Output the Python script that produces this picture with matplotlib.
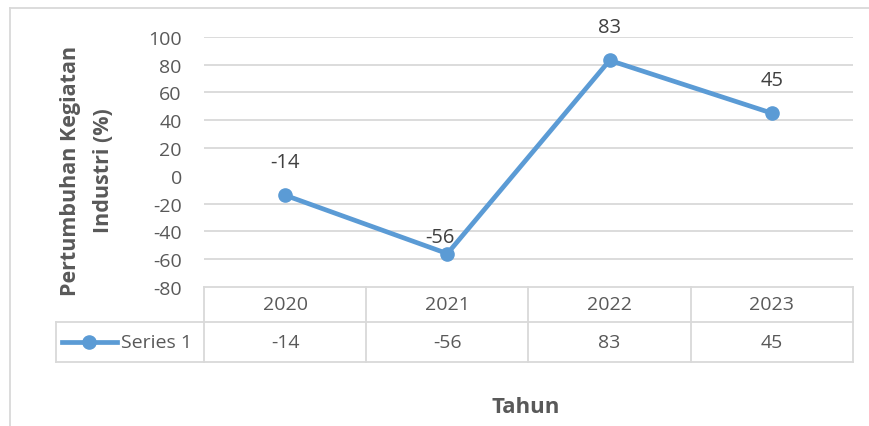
import matplotlib.pyplot as plt
import matplotlib.transforms as mtransforms
from matplotlib.lines import Line2D

plt.rcParams['font.family'] = ['Open Sans', 'DejaVu Sans']

# data
years = ['2020', '2021', '2022', '2023']
growth = [-14, -56, 83, 45]
series_name = 'Series 1'
yticks = [-80, -60, -40, -20, 0, 20, 40, 60, 80, 100]

# label offsets (points) above each marker
label_offsets = [(0, 24), (-5, 12), (0, 24), (0, 24)]

W, H = 870, 427
blue = '#5B9BD5'
grid = '#D9D9D9'
fs = 14

fig = plt.figure(figsize=(W / 100, H / 100), dpi=100)

def fx(px):
    return px / W

def fy(py):
    return 1 - py / H

ax = fig.add_axes([fx(204), fy(288), fx(853) - fx(204), fy(37.7) - fy(288)])
x = list(range(len(years)))

ax.plot(x, growth, color=blue, lw=3.4, marker='o', ms=9.5, zorder=3, clip_on=False)
for xi, v, off in zip(x, growth, label_offsets):
    ax.annotate(str(v), (xi, v), xytext=off, textcoords='offset points',
                ha='center', va='center', fontsize=14.5, color='#404040')

ax.set_xlim(-0.5, len(years) - 0.5)
ax.set_ylim(-80, 100)
ax.set_yticks(yticks)
ax.set_yticklabels([str(t) for t in yticks], fontsize=fs, color='#595959')
ax.tick_params(axis='y', length=0, pad=16)
ax.set_xticks([])
for t in yticks:
    if t != 0 and t != -80:
        ax.axhline(t, color=grid, lw=1.3, zorder=1)
for s in ax.spines.values():
    s.set_visible(False)

# outer chart border
fig.add_artist(Line2D([fx(10), fx(10)], [fy(8.5), 0], color=grid, lw=1.3))
fig.add_artist(Line2D([fx(10), 1], [fy(8.5), fy(8.5)], color=grid, lw=1.3))

# data table
tb = mtransforms.blended_transform_factory(ax.transData, fig.transFigure)
r0, r1, r2 = fy(288), fy(323), fy(363)
left = -0.5
right = len(years) - 0.5
ax.plot([left, right], [r0, r0], color=grid, lw=1.3, transform=tb, clip_on=False)
ax.plot([left, right], [r1, r1], color=grid, lw=1.3, transform=tb, clip_on=False)
fig.add_artist(Line2D([fx(56), fx(204)], [r1, r1], color=grid, lw=1.3))
fig.add_artist(Line2D([fx(56), fx(204)], [r2, r2], color=grid, lw=1.3))
fig.add_artist(Line2D([fx(56), fx(56)], [r1, r2], color=grid, lw=1.3))
ax.plot([left, right], [r2, r2], color=grid, lw=1.3, transform=tb, clip_on=False)
for b in range(len(years) + 1):
    ax.plot([b - 0.5, b - 0.5], [r0, r2], color=grid, lw=1.3, transform=tb, clip_on=False)
for xi, yr, v in zip(x, years, growth):
    ax.text(xi, (r0 + r1) / 2, yr, transform=tb, ha='center', va='center',
            fontsize=fs, color='#595959')
    ax.text(xi, (r1 + r2) / 2, str(v), transform=tb, ha='center', va='center',
            fontsize=fs, color='#595959')

# legend key in table
fig.add_artist(Line2D([fx(62), fx(117)], [(r1 + r2) / 2] * 2, color=blue, lw=3.4))
fig.add_artist(Line2D([fx(89.5)], [(r1 + r2) / 2], color=blue, marker='o', ms=9.5))
fig.text(fx(121), (r1 + r2) / 2, series_name, ha='left', va='center',
         fontsize=fs, color='#595959')

# axis titles
fig.text(fx(87), fy(171), 'Pertumbuhan Kegiatan\nIndustri (%)', rotation=90,
         ha='center', va='center', multialignment='center', fontsize=15.5,
         fontweight='bold', color='#595959', linespacing=1.75)
fig.text(fx(526), fy(408), 'Tahun', ha='center', va='center', fontsize=16,
         fontweight='bold', color='#595959')

fig.savefig('out.png', dpi=100)
